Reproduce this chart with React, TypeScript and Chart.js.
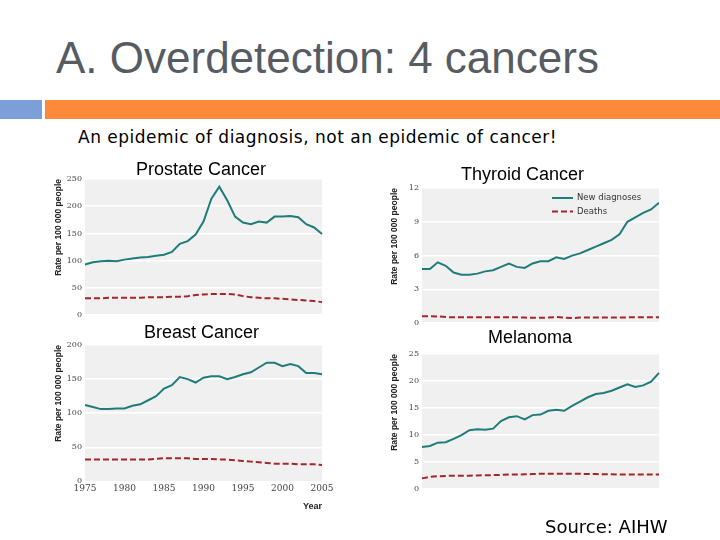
import React, { useEffect, useRef } from "react";
import { Chart, registerables } from "chart.js";

Chart.register(...registerables);

// ---------- data ----------
const years = [
  1975, 1976, 1977, 1978, 1979, 1980, 1981, 1982, 1983, 1984,
  1985, 1986, 1987, 1988, 1989, 1990, 1991, 1992, 1993, 1994,
  1995, 1996, 1997, 1998, 1999, 2000, 2001, 2002, 2003, 2004, 2005,
];

const prostateNew = [
  93, 97, 99, 100, 99, 102, 104, 106, 107, 109,
  111, 116, 131, 136, 148, 172, 214, 236, 211, 181,
  170, 167, 172, 170, 181, 181, 182, 180, 167, 161, 149,
];
const prostateDeaths = [
  31, 31, 31, 32, 32, 32, 32, 32, 33, 33,
  33, 34, 34, 35, 37, 38, 39, 39, 39, 38,
  35, 33, 32, 31, 31, 30, 29, 28, 27, 26, 24,
];

const thyroidNew = [
  4.8, 4.8, 5.4, 5.1, 4.5, 4.3, 4.3, 4.4, 4.6, 4.7,
  5.0, 5.3, 5.0, 4.9, 5.3, 5.5, 5.5, 5.85, 5.7, 6.0,
  6.2, 6.5, 6.8, 7.1, 7.4, 7.9, 9.0, 9.4, 9.8, 10.1, 10.7,
];
const thyroidDeaths = [
  0.62, 0.62, 0.6, 0.55, 0.52, 0.52, 0.52, 0.52, 0.52, 0.52,
  0.52, 0.52, 0.52, 0.5, 0.48, 0.48, 0.5, 0.55, 0.5, 0.45,
  0.5, 0.5, 0.5, 0.5, 0.5, 0.5, 0.52, 0.52, 0.52, 0.52, 0.52,
];

const breastNew = [
  112, 109, 106, 106, 107, 107, 111, 113, 119, 125,
  136, 141, 153, 150, 145, 152, 154, 154, 150, 153,
  157, 160, 167, 174, 174, 169, 172, 169, 159, 159, 157,
];
const breastDeaths = [
  32, 32, 32, 32, 32, 32, 32, 32, 32, 33,
  34, 34, 34, 34, 33, 33, 33, 32, 32, 31,
  30, 29, 28, 27, 26, 26, 26, 25, 25, 25, 24,
];

const melanomaNew = [
  7.8, 8.0, 8.6, 8.7, 9.3, 10.0, 10.9, 11.1, 11.0, 11.2,
  12.6, 13.3, 13.5, 12.9, 13.7, 13.8, 14.5, 14.7, 14.5, 15.4,
  16.2, 17.0, 17.6, 17.8, 18.2, 18.8, 19.4, 18.9, 19.2, 19.9, 21.5,
];
const melanomaDeaths = [
  2.0, 2.3, 2.4, 2.45, 2.5, 2.5, 2.5, 2.55, 2.6, 2.6,
  2.65, 2.7, 2.7, 2.75, 2.8, 2.85, 2.85, 2.85, 2.85, 2.85,
  2.85, 2.8, 2.8, 2.75, 2.75, 2.7, 2.7, 2.7, 2.7, 2.7, 2.7,
];

const seriesLabels = ["New diagnoses", "Deaths"];
const yAxisTitle = "Rate per 100 000 people";
const xAxisTitle = "Year";

// ---------- styles ----------
const TEAL = "#1f7c79";
const RED = "#a3262f";
const PLOT_BG = "#f0f0f0";

const plotBgPlugin = {
  id: "plotBg",
  beforeDraw(chart: any, _args: any, opts: any) {
    const { ctx, chartArea: a, width, height } = chart;
    ctx.save();
    if (opts && opts.pageFill) {
      ctx.fillStyle = "#ffffff";
      ctx.fillRect(0, 0, width, height);
    }
    ctx.fillStyle = PLOT_BG;
    ctx.fillRect(a.left, a.top, a.right - a.left, a.bottom - a.top);
    ctx.restore();
  },
};

const innerLegendPlugin = {
  id: "innerLegend",
  afterDraw(chart: any, _args: any, opts: any) {
    if (!opts || !opts.show) return;
    const { ctx, chartArea: a } = chart;
    const x0 = a.right - opts.fromRight;
    chart.data.datasets.forEach((ds: any, i: number) => {
      const y = a.top + opts.top + i * opts.gap;
      ctx.save();
      ctx.strokeStyle = ds.borderColor;
      ctx.lineWidth = 2;
      ctx.setLineDash(ds.borderDash || []);
      ctx.beginPath();
      ctx.moveTo(x0, y);
      ctx.lineTo(x0 + opts.len, y);
      ctx.stroke();
      ctx.setLineDash([]);
      ctx.fillStyle = "#333";
      ctx.font = '8.5px "DejaVu Sans", sans-serif';
      ctx.textBaseline = "middle";
      ctx.fillText(ds.label, x0 + opts.len + 4, y);
      ctx.restore();
    });
  },
};

type Cfg = {
  title: string;
  newData: number[];
  deathData: number[];
  yMax: number;
  yStep: number;
  showX: boolean;
  legend: boolean;
  titlePad: { top: number; bottom: number };
  padBottom: number;
  axisW: number;
  rightW: number;
  pageFill: boolean;
};

function buildConfig(c: Cfg): any {
  return {
    type: "line",
    data: {
      labels: years,
      datasets: [
        {
          label: seriesLabels[0],
          data: c.newData,
          borderColor: TEAL,
          borderWidth: 2,
          pointRadius: 0,
          tension: 0,
          fill: false,
          yAxisID: "y",
        },
        {
          label: seriesLabels[1],
          data: c.deathData,
          borderColor: RED,
          borderWidth: 2,
          borderDash: [6, 3],
          pointRadius: 0,
          tension: 0,
          fill: false,
          yAxisID: "y",
        },
      ],
    },
    options: {
      animation: false,
      responsive: true,
      maintainAspectRatio: false,
      devicePixelRatio: 1,
      layout: { padding: { left: 0, right: 0, top: 0, bottom: c.padBottom } },
      plugins: {
        legend: { display: false },
        tooltip: { enabled: false },
        title: {
          display: true,
          text: c.title,
          color: "#000",
          font: { family: '"Liberation Sans", Arial, sans-serif', size: 18, weight: "normal", lineHeight: 1 },
          padding: c.titlePad,
        },
        plotBg: { pageFill: c.pageFill },
        innerLegend: { show: c.legend, fromRight: 107, top: 10, gap: 13.4, len: 21 },
      },
      scales: {
        x: {
          display: c.showX,
          grid: { display: false, drawTicks: false },
          border: { display: false },
          ticks: {
            autoSkip: false,
            maxRotation: 0,
            minRotation: 0,
            color: "#444",
            padding: 2,
            font: { family: '"DejaVu Serif", serif', size: 9 },
            callback: (_v: any, i: number) => (years[i] % 5 === 0 ? String(years[i]) : ""),
          },
          title: {
            display: true,
            text: xAxisTitle,
            align: "end",
            color: "#222",
            font: { family: '"Liberation Sans", Arial, sans-serif', size: 9, weight: "bold" },
            padding: { top: 5, bottom: 0 },
          },
        },
        y: {
          position: "left",
          min: 0,
          max: c.yMax,
          grid: { color: "#ffffff", lineWidth: 1.5, drawTicks: false },
          border: { display: false },
          ticks: {
            stepSize: c.yStep,
            color: "#444",
            padding: 3,
            font: { family: '"DejaVu Serif", serif', size: 8 },
          },
          title: {
            display: true,
            text: yAxisTitle,
            align: "end",
            color: "#222",
            font: { family: '"Liberation Sans", Arial, sans-serif', size: 8.5, weight: "bold" },
            padding: { top: 4, bottom: 0 },
          },
          afterFit: (s: any) => {
            s.width = c.axisW;
          },
        },
        yRight: {
          type: "linear",
          position: "right",
          display: true,
          grid: { display: false, drawTicks: false },
          border: { display: false },
          ticks: { display: false },
          afterFit: (s: any) => {
            s.width = c.rightW;
          },
        },
      },
    },
    plugins: [plotBgPlugin, innerLegendPlugin],
  };
}

function CancerChart({ cfg, box }: { cfg: Cfg; box: { left: number; top: number; width: number; height: number } }) {
  const ref = useRef<HTMLCanvasElement>(null);
  useEffect(() => {
    const chart = new Chart(ref.current as HTMLCanvasElement, buildConfig(cfg));
    return () => chart.destroy();
  }, []);
  return (
    <div style={{ position: "absolute", left: box.left, top: box.top, width: box.width, height: box.height }}>
      <canvas ref={ref} />
    </div>
  );
}

export default function App() {
  return (
    <div
      style={{
        position: "fixed",
        left: 0,
        top: 0,
        width: 720,
        height: 540,
        background: "#fff",
        overflow: "hidden",
      }}
    >
      <div
        style={{
          position: "absolute",
          left: 56,
          top: 36,
          fontFamily: '"Liberation Sans", Arial, sans-serif',
          fontSize: 44,
          lineHeight: "44px",
          color: "#575c63",
          whiteSpace: "nowrap",
        }}
      >
        A. Overdetection: 4 cancers
      </div>
      <div style={{ position: "absolute", left: 0, top: 100, width: 42, height: 19, background: "#7c9fd9" }} />
      <div style={{ position: "absolute", left: 45, top: 100, width: 675, height: 19, background: "#fd8a3a" }} />
      <div
        style={{
          position: "absolute",
          left: 78,
          top: 129,
          fontFamily: '"DejaVu Sans", Verdana, sans-serif',
          fontSize: 17,
          letterSpacing: 0.5,
          lineHeight: "17px",
          color: "#000",
          whiteSpace: "nowrap",
        }}
      >
        An epidemic of diagnosis, not an epidemic of cancer!
      </div>

      <CancerChart
        box={{ left: 50, top: 161, width: 302, height: 162 }}
        cfg={{
          title: "Prostate Cancer",
          newData: prostateNew,
          deathData: prostateDeaths,
          yMax: 250,
          yStep: 50,
          showX: false,
          legend: false,
          titlePad: { top: 0, bottom: 0 },
          padBottom: 6,
          axisW: 35,
          rightW: 30,
          pageFill: false,
        }}
      />
      <CancerChart
        box={{ left: 386, top: 166, width: 273, height: 165 }}
        cfg={{
          title: "Thyroid Cancer",
          newData: thyroidNew,
          deathData: thyroidDeaths,
          yMax: 12,
          yStep: 3,
          showX: false,
          legend: true,
          titlePad: { top: 0, bottom: 4 },
          padBottom: 6,
          axisW: 36,
          rightW: 0,
          pageFill: false,
        }}
      />
      <CancerChart
        box={{ left: 50, top: 324, width: 303, height: 188 }}
        cfg={{
          title: "Breast Cancer",
          newData: breastNew,
          deathData: breastDeaths,
          yMax: 200,
          yStep: 50,
          showX: true,
          legend: false,
          titlePad: { top: 0, bottom: 3 },
          padBottom: 0,
          axisW: 35,
          rightW: 31,
          pageFill: false,
        }}
      />
      <CancerChart
        box={{ left: 386, top: 326, width: 288, height: 171 }}
        cfg={{
          title: "Melanoma",
          newData: melanomaNew,
          deathData: melanomaDeaths,
          yMax: 25,
          yStep: 5,
          showX: false,
          legend: false,
          titlePad: { top: 3, bottom: 7 },
          padBottom: 6,
          axisW: 36,
          rightW: 15,
          pageFill: true,
        }}
      />

      <div
        style={{
          position: "absolute",
          left: 545,
          top: 518,
          fontFamily: '"DejaVu Sans", Verdana, sans-serif',
          fontSize: 18,
          lineHeight: "18px",
          color: "#000",
          whiteSpace: "nowrap",
        }}
      >
        Source: AIHW
      </div>
    </div>
  );
}
